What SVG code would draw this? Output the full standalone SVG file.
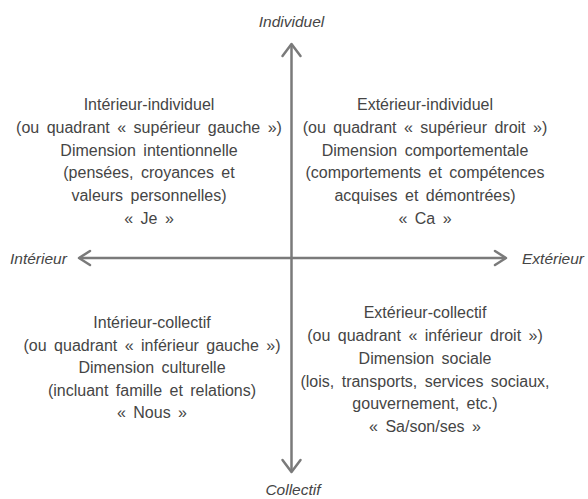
<svg xmlns="http://www.w3.org/2000/svg" width="588" height="499" viewBox="0 0 588 499">
<style>
.t{font-family:"Liberation Sans","DejaVu Sans",sans-serif;font-size:16px;word-spacing:3px;fill:#454545;text-anchor:middle}
.ax{font-family:"Liberation Sans","DejaVu Sans",sans-serif;font-size:15.5px;font-style:italic;fill:#454545}
.axis{stroke:#7a7a7a;stroke-width:2.5;fill:none;stroke-linecap:round;stroke-linejoin:round}
</style>
<rect width="588" height="499" fill="#ffffff"/>
<g id="connectors">
<path class="axis" d="M291.5 45 L291.5 471"/>
<path class="axis" d="M282.5 56 L291.5 44 L300.5 56"/>
<path class="axis" d="M282.5 460 L291.5 472 L300.5 460"/>
<path class="axis" d="M80 258 L505 258"/>
<path class="axis" d="M90 251 L79 258 L90 265"/>
<path class="axis" d="M495 251 L506 258 L495 265"/>
</g>
<g id="axis-individuel"><text class="ax" x="291.5" y="27" text-anchor="middle">Individuel</text></g>
<g id="axis-collectif"><text class="ax" x="293" y="495" text-anchor="middle">Collectif</text></g>
<g id="axis-interieur"><text class="ax" x="10" y="264">Intérieur</text></g>
<g id="axis-exterieur"><text class="ax" x="522" y="264">Extérieur</text></g>
<g id="q-top-left">
<text class="t" x="149" y="110">Intérieur-individuel</text>
<text class="t" x="149" y="133">(ou quadrant « supérieur gauche »)</text>
<text class="t" x="149" y="156">Dimension intentionnelle</text>
<text class="t" x="149" y="178">(pensées, croyances et</text>
<text class="t" x="149" y="201">valeurs personnelles)</text>
<text class="t" x="149" y="224">« Je »</text>
</g>
<g id="q-top-right">
<text class="t" x="425" y="110">Extérieur-individuel</text>
<text class="t" x="425" y="133">(ou quadrant « supérieur droit »)</text>
<text class="t" x="425" y="156">Dimension comportementale</text>
<text class="t" x="425" y="178">(comportements et compétences</text>
<text class="t" x="425" y="201">acquises et démontrées)</text>
<text class="t" x="425" y="224">« Ca »</text>
</g>
<g id="q-bottom-left">
<text class="t" x="152" y="328">Intérieur-collectif</text>
<text class="t" x="152" y="351">(ou quadrant « inférieur gauche »)</text>
<text class="t" x="152" y="373">Dimension culturelle</text>
<text class="t" x="152" y="396">(incluant famille et relations)</text>
<text class="t" x="152" y="418">« Nous »</text>
</g>
<g id="q-bottom-right">
<text class="t" x="425" y="318">Extérieur-collectif</text>
<text class="t" x="425" y="341">(ou quadrant « inférieur droit »)</text>
<text class="t" x="425" y="364">Dimension sociale</text>
<text class="t" x="425" y="387">(lois, transports, services sociaux,</text>
<text class="t" x="425" y="409">gouvernement, etc.)</text>
<text class="t" x="425" y="432">« Sa/son/ses »</text>
</g>
</svg>
